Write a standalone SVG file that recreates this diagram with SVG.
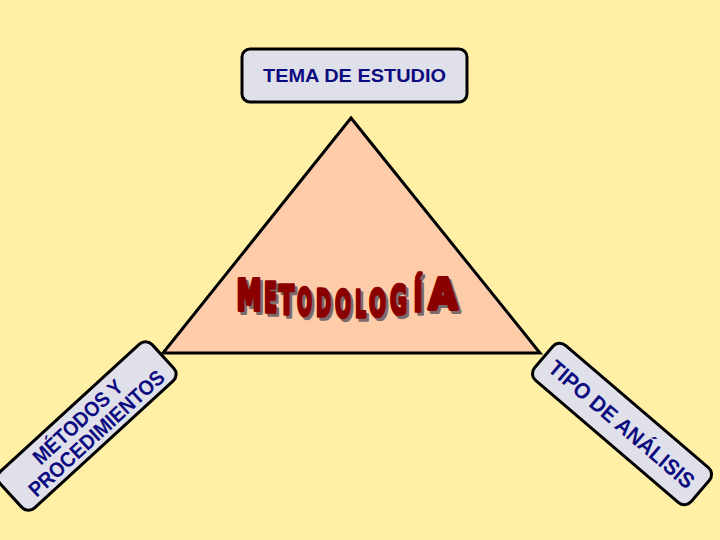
<svg xmlns="http://www.w3.org/2000/svg" width="720" height="540" viewBox="0 0 720 540">
<style>
.box{fill:#E0E0EA;stroke:#000;stroke-width:3}
.lbl{font-family:"Liberation Sans",Arial,sans-serif;fill:#0C0C80;text-anchor:middle;font-weight:bold}
.w{font-family:"DejaVu Sans",sans-serif;font-weight:bold;font-size:20px;text-anchor:middle}
.wr{fill:#8A0000;stroke:#8A0000;stroke-width:1.8;stroke-linejoin:round}
.ws{fill:#7A6A6A;stroke:#7A6A6A;stroke-width:1.8;stroke-linejoin:round}
</style>
<defs>
<g id="word">
<text class="w" textLength="25" lengthAdjust="spacingAndGlyphs" transform="translate(249,310) scale(1,2.12)">M</text>
<text class="w" textLength="13" lengthAdjust="spacingAndGlyphs" transform="translate(270.5,312) scale(1,2.0)">E</text>
<text class="w" textLength="15" lengthAdjust="spacingAndGlyphs" transform="translate(286.5,313.5) scale(1,1.92)">T</text>
<text class="w" textLength="15" lengthAdjust="spacingAndGlyphs" transform="translate(304.5,315) scale(1,1.86)">O</text>
<text class="w" textLength="15" lengthAdjust="spacingAndGlyphs" transform="translate(323.5,316) scale(1,1.84)">D</text>
<text class="w" textLength="16" lengthAdjust="spacingAndGlyphs" transform="translate(343,316.5) scale(1,1.84)">O</text>
<text class="w" textLength="11" lengthAdjust="spacingAndGlyphs" transform="translate(360.5,316.5) scale(1,1.86)">L</text>
<text class="w" textLength="17" lengthAdjust="spacingAndGlyphs" transform="translate(377.5,315.5) scale(1,1.9)">O</text>
<text class="w" textLength="17" lengthAdjust="spacingAndGlyphs" transform="translate(398.5,313.5) scale(1,1.98)">G</text>
<text class="w" textLength="9" lengthAdjust="spacingAndGlyphs" transform="translate(418,311) scale(1,2.05)">Í</text>
<text class="w" textLength="29" lengthAdjust="spacingAndGlyphs" transform="translate(443,309) scale(1,2.15)">A</text>
</g>
</defs>
<rect width="720" height="540" fill="#FFF0A5"/>
<g id="triangulo">
<polygon points="351,118 163,353 540,353" fill="#FFCCAA" stroke="#000" stroke-width="3"/>
</g>
<g id="metodologia">
<use href="#word" class="ws" transform="translate(2.5,3)"/>
<use href="#word" class="wr"/>
</g>
<g id="tema">
<rect class="box" x="242" y="49" width="225" height="53" rx="8"/>
<text class="lbl" x="354.5" y="82" font-size="19" textLength="183" lengthAdjust="spacingAndGlyphs">TEMA DE ESTUDIO</text>
</g>
<g id="metodos" transform="translate(87,426) rotate(-42.5)">
<rect class="box" x="-103" y="-25" width="206" height="50" rx="9"/>
<text class="lbl" x="-4" y="-2" font-size="21" textLength="114" lengthAdjust="spacingAndGlyphs">MÉTODOS Y</text>
<text class="lbl" x="2" y="19" font-size="21" textLength="176" lengthAdjust="spacingAndGlyphs">PROCEDIMIENTOS</text>
</g>
<g id="tipo" transform="translate(622,424) rotate(40.5)">
<rect class="box" x="-103" y="-23" width="206" height="46" rx="9"/>
<text class="lbl" x="0" y="8" font-size="22" textLength="184" lengthAdjust="spacingAndGlyphs">TIPO DE ANÁLISIS</text>
</g>
</svg>
